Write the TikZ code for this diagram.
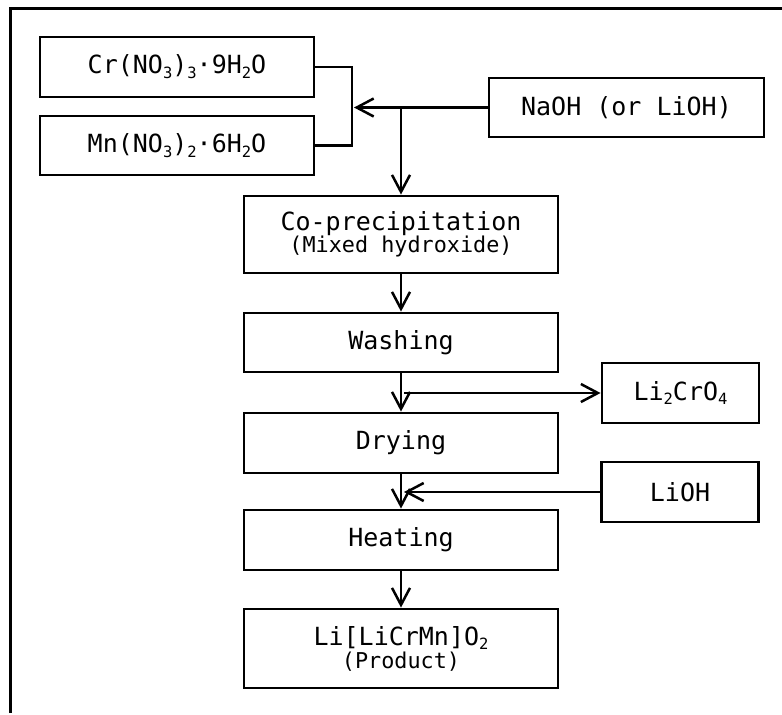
\documentclass[tikz,border=0pt]{standalone}
\usepackage{fontspec}
\setmonofont{DejaVu Sans Mono}
\usetikzlibrary{arrows.meta}
\newcommand\lsub[1]{\raisebox{-0.35ex}{\fontsize{15.5}{15.5}\selectfont #1}}
\begin{document}
\begin{tikzpicture}[x=1pt,y=-1pt,
  box/.style={draw, line width=2.9pt, inner sep=0pt, align=center, font=\ttfamily\fontsize{25}{28}\selectfont},
  mainbox/.style={box, minimum width=314pt},
  sidebox/.style={box, minimum width=157pt, minimum height=60pt},
  conn/.style={line width=2.5pt},
  arr/.style={conn, -{Straight Barb[length=17pt,width=18pt]}}]
\useasboundingbox (0,0) rectangle (782,715);
\draw[line width=3pt] (10,713) -- (10,8) -- (782,8);
\node[box, minimum width=274pt, minimum height=60pt] (cr) at (177,67) {Cr(NO\lsub{3})\lsub{3}·9H\lsub{2}O};
\node[box, minimum width=274pt, minimum height=59pt] (mn) at (177,145.5) {Mn(NO\lsub{3})\lsub{2}·6H\lsub{2}O};
\node[box, minimum width=275pt, minimum height=59pt] (naoh) at (626.5,107.5) {NaOH (or LiOH)};
\node[mainbox, minimum height=77pt] (cop) at (401,234.5) {Co-precipitation\\[-6pt]{\fontsize{21.8}{22}\selectfont (Mixed hydroxide)}};
\node[mainbox, minimum height=59pt] (wash) at (401,342.5) {Washing};
\node[mainbox, minimum height=60pt] (dry) at (401,443) {Drying};
\node[mainbox, minimum height=60pt] (heat) at (401,540) {Heating};
\node[mainbox, minimum height=79pt] (prod) at (401,648.5) {Li[LiCrMn]O\lsub{2}\\[-5pt]{\fontsize{21.8}{22}\selectfont (Product)}};
\node[sidebox] (li2) at (680.5,393) {Li\lsub{2}CrO\lsub{4}};
\node[sidebox] (lioh) at (680,492) {LiOH};
\coordinate (jn) at (352,107.5);
\draw[conn] (cr.east) -- (cr.east -| jn) -- (mn.east -| jn) -- (mn.east);
\draw[arr] (naoh.west) -- ([xshift=2pt]jn);
\draw[arr] (naoh.west -| cop.north) -- (cop.north);
\draw[arr] (cop.south) -- (wash.north);
\draw[arr] (wash.south) -- (dry.north);
\draw[arr] (dry.south) -- (heat.north);
\draw[arr] (heat.south) -- (prod.north);
\draw[arr] ([xshift=3pt]wash.south |- li2.west) -- (li2.west);
\draw[arr] (lioh.west) -- ([xshift=3pt]dry.south |- lioh.west);
\end{tikzpicture}
\end{document}
